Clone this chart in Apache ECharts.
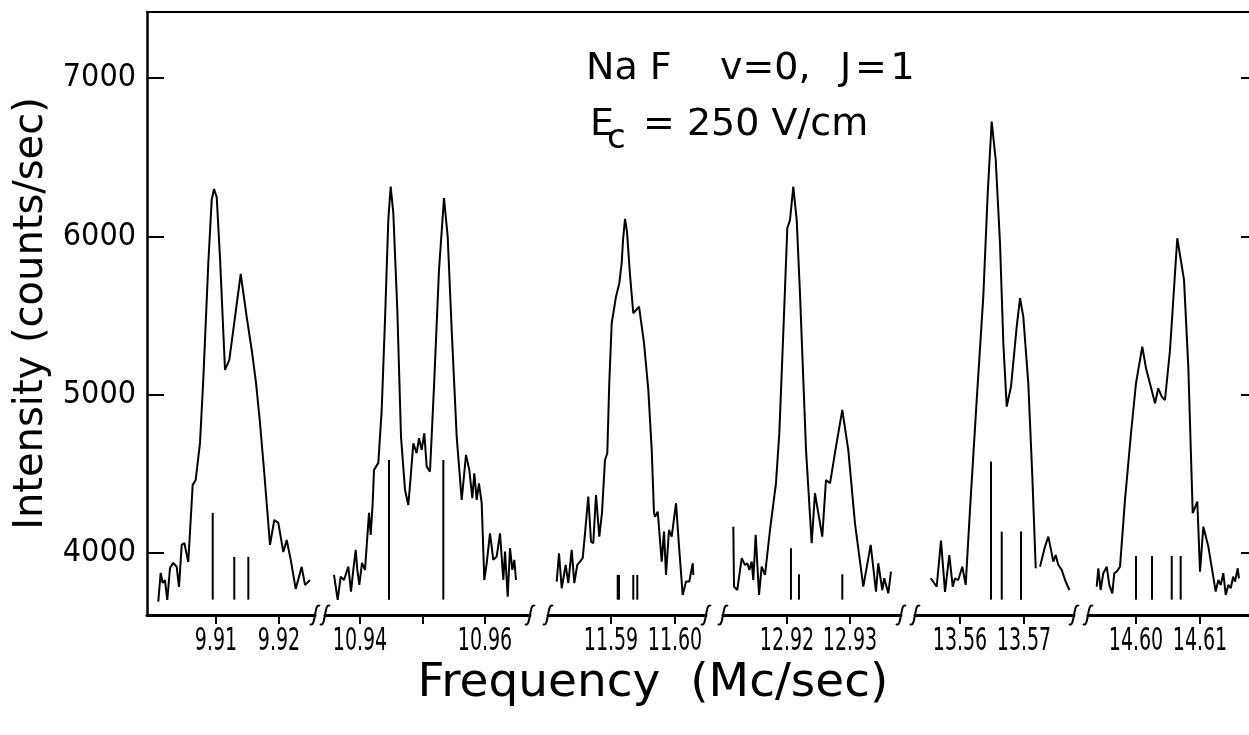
<!DOCTYPE html>
<html><head><meta charset="utf-8">
<script src="https://cdn.jsdelivr.net/npm/echarts@6/dist/echarts.min.js"></script>
<style>html,body{margin:0;padding:0;background:#fff}#c{width:1249px;height:735px}</style>
</head><body><div id="c"></div>
<script>
// ---------------- data ----------------
const yTickValues = [4000, 5000, 6000, 7000];
const stickBase = 3705;

const seg1Freq = [9.90084, 9.90122, 9.90154, 9.90190, 9.90227, 9.90270, 9.90322, 9.90376, 9.90413, 9.90456, 9.90497, 9.90560, 9.90630, 9.90678, 9.90746, 9.90798, 9.90878, 9.90932, 9.90968, 9.91011, 9.91063, 9.91143, 9.91211, 9.91302, 9.91392, 9.91487, 9.91567, 9.91635, 9.91698, 9.91762, 9.91857, 9.91925, 9.91989, 9.92068, 9.92122, 9.92186, 9.92265, 9.92360, 9.92413, 9.92492];
const seg1Counts = [3692, 3874, 3810, 3829, 3703, 3905, 3937, 3912, 3785, 4051, 4063, 3943, 4430, 4461, 4695, 5093, 5832, 6230, 6299, 6249, 5870, 5156, 5219, 5491, 5762, 5491, 5282, 5074, 4821, 4524, 4051, 4208, 4190, 4006, 4082, 3956, 3773, 3912, 3798, 3829];

const seg2Freq = [10.93584, 10.93643, 10.93691, 10.93744, 10.93813, 10.93856, 10.93893, 10.93931, 10.93957, 10.93989, 10.94032, 10.94080, 10.94144, 10.94171, 10.94203, 10.94224, 10.94293, 10.94347, 10.94400, 10.94453, 10.94491, 10.94533, 10.94597, 10.94656, 10.94720, 10.94773, 10.94811, 10.94853, 10.94907, 10.94944, 10.94987, 10.95029, 10.95067, 10.95120, 10.95184, 10.95264, 10.95344, 10.95403, 10.95467, 10.95547, 10.95627, 10.95696, 10.95749, 10.95797, 10.95829, 10.95867, 10.95904, 10.95947, 10.95989, 10.96027, 10.96080, 10.96133, 10.96187, 10.96240, 10.96293, 10.96320, 10.96363, 10.96400, 10.96437, 10.96469, 10.96496];
const seg2Counts = [3861, 3703, 3850, 3829, 3913, 3756, 3893, 4019, 3893, 3798, 3937, 3893, 4253, 4114, 4316, 4524, 4569, 4903, 5472, 6104, 6314, 6148, 5535, 4735, 4398, 4303, 4482, 4693, 4630, 4725, 4651, 4756, 4545, 4514, 5051, 5788, 6241, 5998, 5409, 4735, 4335, 4619, 4524, 4346, 4503, 4335, 4440, 4314, 3829, 3935, 4124, 3956, 3977, 4124, 3829, 4008, 3724, 4030, 3893, 3956, 3829];

const seg3Freq = [11.58152, 11.58188, 11.58230, 11.58292, 11.58333, 11.58386, 11.58427, 11.58473, 11.58516, 11.58558, 11.58594, 11.58645, 11.58688, 11.58723, 11.58766, 11.58817, 11.58859, 11.58906, 11.58942, 11.58973, 11.59011, 11.59078, 11.59130, 11.59167, 11.59188, 11.59219, 11.59250, 11.59297, 11.59348, 11.59375, 11.59438, 11.59516, 11.59583, 11.59636, 11.59672, 11.59688, 11.59730, 11.59792, 11.59828, 11.59859, 11.59906, 11.59948, 11.60016, 11.60063, 11.60120, 11.60172, 11.60223, 11.60277, 11.60286];
const seg3Counts = [3819, 3998, 3777, 3924, 3809, 4019, 3809, 3924, 3945, 3967, 4124, 4356, 4071, 4061, 4366, 4103, 4251, 4587, 4630, 5072, 5451, 5619, 5704, 5830, 5977, 6110, 6028, 5756, 5514, 5503, 5556, 5325, 5030, 4651, 4251, 4229, 4261, 3945, 4135, 3861, 4145, 4103, 4314, 4040, 3735, 3819, 3819, 3935, 3861];

const seg4Freq = [12.91148, 12.91159, 12.91211, 12.91281, 12.91333, 12.91370, 12.91402, 12.91440, 12.91465, 12.91503, 12.91556, 12.91598, 12.91651, 12.91730, 12.91825, 12.91878, 12.91941, 12.92005, 12.92048, 12.92100, 12.92154, 12.92206, 12.92302, 12.92392, 12.92444, 12.92497, 12.92560, 12.92619, 12.92683, 12.92778, 12.92878, 12.92973, 12.93079, 12.93211, 12.93329, 12.93413, 12.93449, 12.93513, 12.93544, 12.93608, 12.93651];
const seg4Counts = [4166, 3787, 3766, 3967, 3924, 3935, 3893, 3945, 3829, 4114, 3735, 3913, 3861, 4145, 4440, 4756, 5388, 6051, 6104, 6314, 6104, 5641, 4651, 4061, 4377, 4251, 4103, 4461, 4440, 4672, 4903, 4651, 4188, 3787, 4051, 3756, 3935, 3766, 3840, 3745, 3882];

const seg5Freq = [13.55542, 13.55636, 13.55703, 13.55766, 13.55833, 13.55886, 13.55922, 13.55973, 13.56036, 13.56089, 13.56156, 13.56261, 13.56364, 13.56433, 13.56495, 13.56558, 13.56625, 13.56677, 13.56730, 13.56797, 13.56886, 13.56938, 13.56989, 13.57067, 13.57130, 13.57183, 13.57216, 13.57250, 13.57328, 13.57380, 13.57458, 13.57495, 13.57536, 13.57589, 13.57641, 13.57708];
const seg5Counts = [3840, 3787, 4078, 3754, 3987, 3787, 3840, 3829, 3913, 3798, 4272, 4966, 5619, 6272, 6725, 6483, 5956, 5325, 4924, 5051, 5430, 5609, 5493, 5072, 4482, 3903, null, 3913, 4040, 4103, 3945, 3987, 3924, 3893, 3829, 3766];

const seg6Freq = [14.59386, 14.59411, 14.59448, 14.59489, 14.59542, 14.59583, 14.59630, 14.59661, 14.59698, 14.59750, 14.59828, 14.59922, 14.60000, 14.60098, 14.60156, 14.60230, 14.60297, 14.60348, 14.60402, 14.60453, 14.60531, 14.60645, 14.60750, 14.60817, 14.60886, 14.60911, 14.60958, 14.61000, 14.61052, 14.61130, 14.61245, 14.61286, 14.61323, 14.61364, 14.61402, 14.61442, 14.61480, 14.61517, 14.61547, 14.61589, 14.61609];
const seg6Counts = [3787, 3903, 3766, 3872, 3913, 3798, 3745, 3872, 3882, 3913, 4335, 4756, 5072, 5303, 5167, 5051, 4946, 5040, 4987, 4966, 5282, 5988, 5725, 5177, 4251, 4240, 4324, 3882, 4166, 4040, 3756, 3829, 3798, 3872, 3735, 3798, 3777, 3850, 3819, 3903, 3840];

// theoretical line positions (stick spectrum)
const seg1StickFreq = [9.90948, 9.91290, 9.91513];
const seg1StickTop = [4253, 3975, 3975];
const seg2StickFreq = [10.94464, 10.95333];
const seg2StickTop = [4587, 4587];
const seg3StickFreq = [11.59105, 11.59125, 11.59348, 11.59411];
const seg3StickTop = [3861, 3861, 3861, 3861];
const seg4StickFreq = [12.92063, 12.92190, 12.92878];
const seg4StickTop = [4030, 3865, 3865];
const seg5StickFreq = [13.56484, 13.56652, 13.56953];
const seg5StickTop = [4577, 4135, 4135];
const seg6StickFreq = [14.60000, 14.60250, 14.60558, 14.60698];
const seg6StickTop = [3981, 3981, 3981, 3981];

// axis ranges and ticks for each broken-axis segment
const segRanges = [[9.89905, 9.92571], [10.93440, 10.96720], [11.58016, 11.60484], [12.90984, 12.93810], [13.55297, 13.57781], [14.59250, 14.61906]];
const segTickValues = [[9.91, 9.92], [10.94, 10.95, 10.96], [11.59, 11.60], [12.92, 12.93], [13.56, 13.57], [14.60, 14.61]];
const segTickLabels = [[9.91, 9.92], [10.94, 10.96], [11.59, 11.60], [12.92, 12.93], [13.56, 13.57], [14.60, 14.61]];
const yRange = [3608, 7417];

// ---------------- layout ----------------
const PLOT_TOP = 12, PLOT_H = 603, PLOT_LEFT = 147, PLOT_RIGHT = 1258;
const segPx = [[147, 315], [325, 530], [548, 706], [723, 901], [915, 1074], [1088, 1258]];
const NARROW = '"Liberation Sans Narrow", "DejaVu Sans Condensed", sans-serif';
const SANS = '"DejaVu Sans", sans-serif';

const freqs = [seg1Freq, seg2Freq, seg3Freq, seg4Freq, seg5Freq, seg6Freq];
const counts = [seg1Counts, seg2Counts, seg3Counts, seg4Counts, seg5Counts, seg6Counts];
const stickF = [seg1StickFreq, seg2StickFreq, seg3StickFreq, seg4StickFreq, seg5StickFreq, seg6StickFreq];
const stickT = [seg1StickTop, seg2StickTop, seg3StickTop, seg4StickTop, seg5StickTop, seg6StickTop];

const grid = [{left: PLOT_LEFT, top: PLOT_TOP, width: PLOT_RIGHT - PLOT_LEFT, height: PLOT_H, outerBoundsMode: 'none', containLabel: false}];
const xAxis = [{
  gridIndex: 0, type: 'value', position: 'top', min: 0, max: 1,
  axisLine: {show: true, lineStyle: {color: '#000', width: 2}},
  axisTick: {show: false}, axisLabel: {show: false}, splitLine: {show: false}
}];
const yAxis = [{
  gridIndex: 0, type: 'value', position: 'left', min: yRange[0], max: yRange[1],
  axisLine: {show: true, lineStyle: {color: '#000', width: 2.5}},
  axisTick: {show: true, inside: true, length: 17, customValues: yTickValues, lineStyle: {color: '#000', width: 2}},
  axisLabel: {show: true, customValues: yTickValues, formatter: v => String(v), color: '#000',
    fontFamily: NARROW, fontSize: 32, margin: 11},
  splitLine: {show: false},
  name: 'Intensity (counts/sec)', nameLocation: 'middle', nameGap: 88,
  nameTextStyle: {color: '#000', fontFamily: SANS, fontSize: 40}
}, {
  gridIndex: 0, type: 'value', position: 'right', min: yRange[0], max: yRange[1],
  axisLine: {show: true, lineStyle: {color: '#000', width: 2}},
  axisTick: {show: true, inside: true, length: 17, customValues: yTickValues, lineStyle: {color: '#000', width: 2}},
  axisLabel: {show: false}, splitLine: {show: false}
}];
const series = [];
const graphic = [];

for (let i = 0; i < 6; i++) {
  grid.push({left: segPx[i][0], top: PLOT_TOP, width: segPx[i][1] - segPx[i][0], height: PLOT_H,
    outerBoundsMode: 'none', containLabel: false});
  xAxis.push({
    gridIndex: i + 1, type: 'value', position: 'bottom', min: segRanges[i][0], max: segRanges[i][1],
    axisLine: {show: true, onZero: false, lineStyle: {color: '#000', width: 3}},
    axisTick: {show: true, length: 9, customValues: segTickValues[i], lineStyle: {color: '#000', width: 2}},
    axisLabel: {show: false},
    splitLine: {show: false}
  });
  yAxis.push({gridIndex: i + 1, type: 'value', min: yRange[0], max: yRange[1], show: false});
  const n = Math.min(freqs[i].length, counts[i].length);
  const pts = [];
  for (let k = 0; k < n; k++) pts.push([freqs[i][k], counts[i][k] === null ? '-' : counts[i][k]]);
  series.push({
    type: 'line', xAxisIndex: i + 1, yAxisIndex: i + 2, data: pts,
    symbol: 'none', showSymbol: false, connectNulls: false, animation: false,
    lineStyle: {color: '#000', width: 2}
  });
  const sticks = stickF[i].map((f, k) => [f, stickT[i][k]]);
  series.push({
    type: 'custom', xAxisIndex: i + 1, yAxisIndex: i + 2, data: sticks, animation: false,
    renderItem: (params, api) => {
      const p0 = api.coord([api.value(0), stickBase]);
      const p1 = api.coord([api.value(0), api.value(1)]);
      return {type: 'line', shape: {x1: p0[0], y1: p0[1], x2: p1[0], y2: p1[1]},
        style: {stroke: '#000', lineWidth: 2}};
    }
  });
  // axis-break marks
  const yb = PLOT_TOP + PLOT_H;
  const ends = [];
  if (i > 0) ends.push(segPx[i][0]);
  if (i < 5) ends.push(segPx[i][1]);
  ends.forEach(x => graphic.push({
    type: 'bezierCurve', silent: true,
    shape: {x1: x + 5, y1: yb - 9, cpx1: x - 1, cpy1: yb - 14, cpx2: x + 1, cpy2: yb + 14, x2: x - 5, y2: yb + 9},
    style: {stroke: '#000', lineWidth: 2, fill: null}
  }));
}

graphic.push({type: 'text', left: 586, top: 50, silent: true,
  style: {text: 'Na F', font: '38px ' + SANS, fill: '#000'}});
graphic.push({type: 'text', left: 720, top: 50, silent: true,
  style: {text: 'v=0,', font: '38px ' + SANS, fill: '#000'}});
graphic.push({type: 'text', left: 840, top: 50, silent: true,
  style: {text: 'J\u200A=\u200A1', font: '38px ' + SANS, fill: '#000'}});
graphic.push({type: 'text', left: 590, top: 106, silent: true,
  style: {text: 'E', font: '38px ' + SANS, fill: '#000'}});
graphic.push({type: 'text', left: 607, top: 122, silent: true,
  style: {text: 'c', font: '34px ' + SANS, fill: '#000'}});
graphic.push({type: 'text', left: 643, top: 106, silent: true,
  style: {text: '= 250 V/cm', font: '38px ' + SANS, fill: '#000'}});
graphic.push({type: 'text', x: 653, y: 684, silent: true,
  style: {text: 'Frequency  (Mc/sec)', font: '47px ' + SANS, fill: '#000', align: 'center', verticalAlign: 'middle'}});

const chart = echarts.init(document.getElementById('c'), null, {renderer: 'canvas'});
chart.setOption({
  backgroundColor: '#fff', animation: false,
  grid, xAxis, yAxis, series
});

// tick labels placed through each segment's own axis scale (narrow lettering)
for (let i = 0; i < 6; i++) {
  segTickLabels[i].forEach(v => {
    const px = chart.convertToPixel({xAxisIndex: i + 1}, v);
    graphic.push({type: 'text', x: px, y: PLOT_TOP + PLOT_H + 11, scaleX: 0.66, silent: true,
      style: {text: v.toFixed(2), font: '32px ' + NARROW, fill: '#000', align: 'center', verticalAlign: 'top'}});
  });
}
chart.setOption({graphic});
</script></body></html>
